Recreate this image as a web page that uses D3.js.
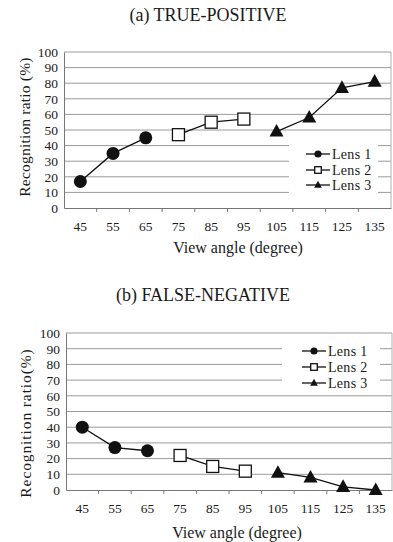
<!DOCTYPE html>
<html><head><meta charset="utf-8">
<script src="https://cdn.jsdelivr.net/npm/d3@7"></script>
<style>body{margin:0;background:#fff}svg{display:block}</style>
</head><body>
<script>
const angles = [45,55,65,75,85,95,105,115,125,135];
const yTicks = [0,10,20,30,40,50,60,70,80,90,100];
const lensNames = ["Lens 1","Lens 2","Lens 3"];
// (a) TRUE-POSITIVE
const tpLens1 = [[45,17],[55,35],[65,45]];
const tpLens2 = [[75,47],[85,55],[95,57]];
const tpLens3 = [[105,49],[115,58],[125,77],[135,81]];
// (b) FALSE-NEGATIVE
const fnLens1 = [[45,40],[55,27],[65,25]];
const fnLens2 = [[75,22],[85,15],[95,12]];
const fnLens3 = [[105,11],[115,8],[125,2],[135,0]];

const FONT = "'Liberation Serif', 'Times New Roman', Times, serif";
const W = 393, H = 542;
const svg = d3.select("body").append("svg").attr("width",W).attr("height",H)
  .attr("font-family",FONT);

function panel(o){
  const g = svg.append("g");
  const x = d3.scaleBand().domain(angles).range([o.x0,o.x1]).padding(0);
  const y = d3.scaleLinear().domain([0,100]).range([o.yb,o.yt]);
  // gridlines
  g.selectAll(".grid").data(yTicks.slice(1)).join("line")
    .attr("x1",o.x0).attr("x2",o.x1).attr("y1",d=>y(d)).attr("y2",d=>y(d))
    .attr("stroke","#9a9a9a").attr("stroke-width",1);
  // right frame
  g.append("line").attr("x1",o.x1).attr("x2",o.x1).attr("y1",o.yt).attr("y2",o.yb).attr("stroke","#b0b0b0");
  // legend background
  g.append("rect").attr("x",o.lx).attr("y",o.ly).attr("width",o.lw).attr("height",o.lh).attr("fill","#fff");
  // axes
  const ya = g.append("g").attr("transform",`translate(${o.x0},0)`)
    .call(d3.axisLeft(y).tickValues(yTicks).tickSize(0).tickPadding(6));
  ya.attr("font-family",FONT).attr("font-size",13.5);
  ya.select(".domain").attr("stroke","#777");
  ya.selectAll("text").attr("fill","#1a1a1a");
  const xa = g.append("g").attr("transform",`translate(0,${o.yb})`)
    .call(d3.axisBottom(x).tickSize(0).tickPadding(13));
  xa.attr("font-family",FONT).attr("font-size",13.5);
  xa.select(".domain").attr("stroke","#777");
  xa.selectAll("text").attr("fill","#1a1a1a");
  // boundary ticks
  g.selectAll(".bt").data(angles.slice(1)).join("line")
    .attr("x1",d=>x(d)).attr("x2",d=>x(d)).attr("y1",o.yb).attr("y2",o.yb+4)
    .attr("stroke","#777");
  // series
  const line = d3.line().x(d=>x(d[0])+x.bandwidth()/2).y(d=>y(d[1]));
  const series = [o.s1,o.s2,o.s3];
  series.forEach((s,i)=>{
    g.append("path").datum(s).attr("d",line).attr("fill","none").attr("stroke","#111").attr("stroke-width",1.3);
    s.forEach(d=>marker(g,i,x(d[0])+x.bandwidth()/2,y(d[1]),1));
  });
  // legend
  lensNames.forEach((n,i)=>{
    const ly = o.legY[i];
    g.append("line").attr("x1",o.legX).attr("x2",o.legX+24).attr("y1",ly).attr("y2",ly).attr("stroke","#111").attr("stroke-width",1.3);
    marker(g,i,o.legX+12,ly,0.55);
    g.append("text").attr("x",o.legX+26).attr("y",ly).attr("dy","0.35em").attr("fill","#1a1a1a")
      .attr("font-family",FONT).attr("font-size",14).attr("letter-spacing",0.3).text(n);
  });
  // titles
  g.append("text").attr("x",o.tx).attr("y",o.ty).attr("text-anchor","middle").attr("fill","#1a1a1a")
    .attr("font-family",FONT).attr("font-size",18).text(o.title);
  g.append("text").attr("x",o.xtx).attr("y",o.xty).attr("text-anchor","middle").attr("fill","#1a1a1a")
    .attr("font-family",FONT).attr("font-size",16).text("View angle (degree)");
  g.append("text").attr("transform",`translate(${o.ytx},${o.yty}) rotate(-90)`).attr("text-anchor","middle").attr("fill","#1a1a1a")
    .attr("font-family",FONT).attr("font-size",15.5).attr("letter-spacing",o.yls).text(o.ytitle);
}

function marker(g,i,cx,cy,s){
  if(i===0){
    g.append("circle").attr("cx",cx).attr("cy",cy).attr("r",6.5*s).attr("fill","#111");
  } else if(i===1){
    const a=12*s;
    g.append("rect").attr("x",cx-a/2).attr("y",cy-a/2).attr("width",a).attr("height",a).attr("fill","#fff").attr("stroke","#111").attr("stroke-width",1.3);
  } else {
    const a=14*s, h=a*0.9;
    g.append("path").attr("d",`M${cx},${cy-h*0.6}L${cx+a/2},${cy+h*0.4}L${cx-a/2},${cy+h*0.4}Z`).attr("fill","#111");
  }
}

panel({x0:64,x1:391,yt:52,yb:208,s1:tpLens1,s2:tpLens2,s3:tpLens3,
  lx:289,ly:140,lw:89,lh:54,legX:306,legY:[154,170,185],
  title:"(a) TRUE-POSITIVE",tx:208,ty:21,xtx:238,xty:253,ytx:30,yty:127,yls:0.2,ytitle:"Recognition ratio (%)"});
panel({x0:66,x1:392,yt:333,yb:490,s1:fnLens1,s2:fnLens2,s3:fnLens3,
  lx:282,ly:340,lw:98,lh:52,legX:302,legY:[351,367,383],
  title:"(b) FALSE-NEGATIVE",tx:203,ty:301,xtx:237,xty:538,ytx:31,yty:423,yls:0.9,ytitle:"Recognition ratio(%)"});
</script>
</body></html>
